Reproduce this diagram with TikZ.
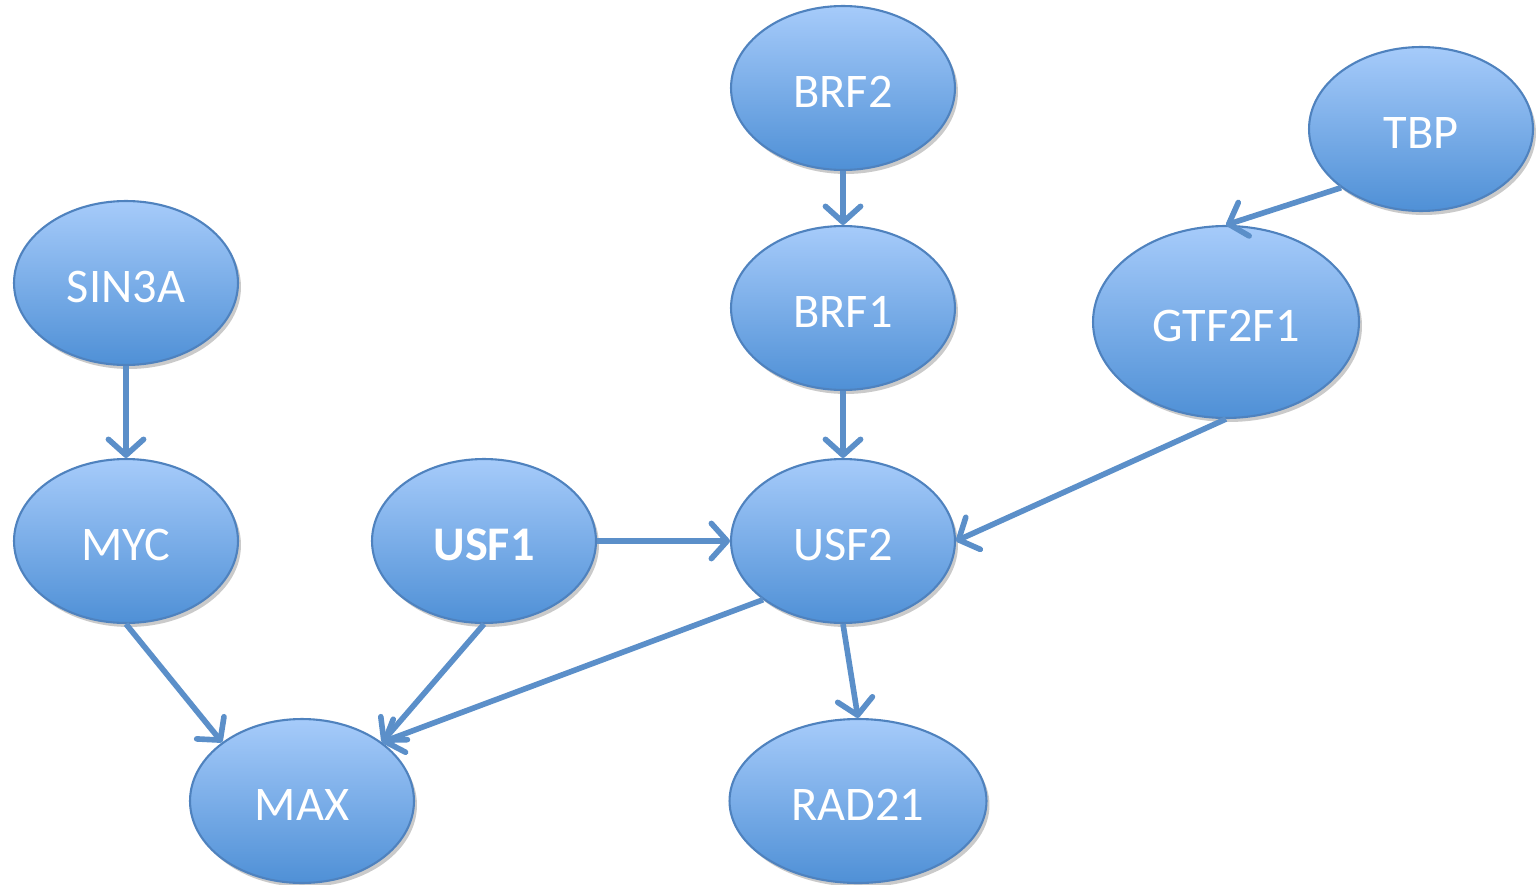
\documentclass[tikz,border=0pt]{standalone}
\usepackage{fontspec}
\setmainfont{Carlito}
\usetikzlibrary{shapes.geometric,arrows.meta,shadows}
\definecolor{edgeblue}{HTML}{5B8FC9}
\definecolor{rimblue}{HTML}{4F82BE}
\definecolor{topblue}{HTML}{A6CBFA}
\definecolor{botblue}{HTML}{4F90D6}
\tikzset{
  gene/.style={ellipse, draw=rimblue, line width=1.2pt, inner sep=0pt,
    top color=topblue, bottom color=botblue,
    minimum width=4.48cm, minimum height=3.28cm,
    text=white, font=\fontsize{27.5}{31}\selectfont,
    text height=22pt, text depth=0pt,
    drop shadow={shadow xshift=0.06cm, shadow yshift=-0.08cm, opacity=0.35, fill=black!60}},
  link/.style={draw=edgeblue, line width=3.2pt,
    -{Straight Barb[length=9pt, width=20pt, line cap=round, line join=round]}}
}
\begin{document}
\begin{tikzpicture}[x=0.02cm, y=-0.02cm]
\useasboundingbox (0,0) rectangle (1537,885);
% genes
\node[gene] (brf2) at (843,88) {BRF2};
\node[gene] (tbp) at (1421,129) {TBP};
\node[gene] (sin3a) at (126,283) {SIN3A};
\node[gene] (brf1) at (843,308) {BRF1};
\node[gene, minimum width=5.32cm, minimum height=3.84cm] (gtf) at (1226,322) {GTF2F1};
\node[gene] (myc) at (126,541) {MYC};
\node[gene] (usf1) at (484,541) {\bfseries USF1};
\node[gene] (usf2) at (843,541) {USF2};
\node[gene] (max) at (302,801) {MAX};
\node[gene, minimum width=5.14cm] (rad) at (858,801) {RAD21};
% regulatory links
\draw[link] (brf2.south) -- (brf1.north);
\draw[link] (tbp.south west) -- (gtf.north);
\draw[link] (sin3a.south) -- (myc.north);
\draw[link] (brf1.south) -- (usf2.north);
\draw[link] (gtf.south) -- (usf2.east);
\draw[link] (usf1.east) -- (usf2.west);
\draw[link] (myc.south) -- (max.north west);
\draw[link] (usf1.south) -- (max.north east);
\draw[link] (usf2.south west) -- (max.north east);
\draw[link] (usf2.south) -- (rad.north);
\end{tikzpicture}
\end{document}
